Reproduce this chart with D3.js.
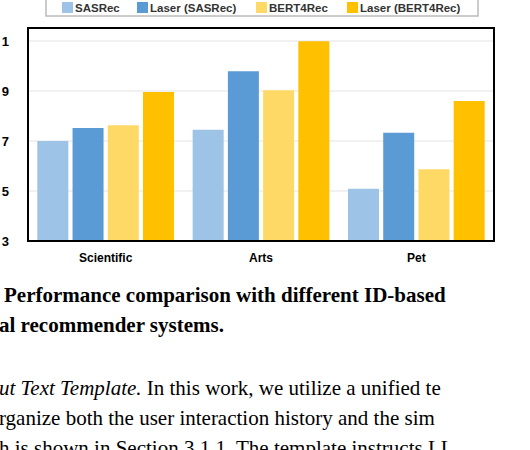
<!DOCTYPE html>
<html><head><meta charset="utf-8">
<script src="https://cdn.jsdelivr.net/npm/d3@7"></script>
<style>body{margin:0;background:#fff}svg{display:block}</style>
</head><body>
<svg id="c" width="530" height="450"></svg>
<script>
const categories = ['Scientific', 'Arts', 'Pet'];
const seriesNames = ['SASRec', 'Laser (SASRec)', 'BERT4Rec', 'Laser (BERT4Rec)'];
const sasrec = [7.0, 7.45, 5.09];
const laserSasrec = [7.52, 9.79, 7.33];
const bert4rec = [7.63, 9.03, 5.87];
const laserBert = [8.96, 10.99, 8.6];
const tickValues = [3, 5, 7, 9, 11];
const tickLabels = ['3', '5', '7', '9', '1'];
const colors = ['#9dc3e6', '#5b9bd5', '#ffd966', '#ffc000'];

const svg = d3.select('#c');
const plotLeft = 28, plotRight = 494, plotTop = 28, plotBottom = 241;

let x0 = d3.scaleBand().domain(categories).range([plotLeft, plotRight]).paddingInner(0.12).paddingOuter(0.06),
    x1 = d3.scaleBand().domain(seriesNames).range([0, x0.bandwidth()]).paddingInner(0.12),
    y = d3.scaleLinear().domain([3, 11.52]).range([plotBottom, plotTop]);

// gridlines
svg.append('g').selectAll('line').data(tickValues.slice(1)).enter().append('line')
    .attr('x1', plotLeft).attr('x2', plotRight)
    .attr('y1', d => y(d)).attr('y2', d => y(d))
    .attr('stroke', '#ececec').attr('stroke-width', 1.5);

// bars
let values = [sasrec, laserSasrec, bert4rec, laserBert];
let rows = categories.map((c, i) => seriesNames.map((s, j) => ({c: c, s: s, v: values[j][i], j: j})));
svg.append('g').selectAll('g').data(rows).enter().append('g')
    .attr('transform', d => 'translate(' + x0(d[0].c) + ',0)')
    .selectAll('rect').data(d => d).enter().append('rect')
    .attr('x', d => x1(d.s)).attr('width', x1.bandwidth())
    .attr('y', d => y(d.v)).attr('height', d => y(3) - y(d.v))
    .attr('fill', d => colors[d.j]);

// frame
svg.append('rect').attr('x', plotLeft).attr('y', plotTop).attr('width', plotRight - plotLeft).attr('height', plotBottom - plotTop)
    .attr('fill', 'none').attr('stroke', '#000').attr('stroke-width', 2);

// y tick labels
svg.append('g').selectAll('text').data(tickValues).enter().append('text')
    .attr('x', 9).attr('y', d => y(d) + 4.5).attr('text-anchor', 'end')
    .attr('font-family', 'Liberation Sans, sans-serif').attr('font-weight', 'bold').attr('font-size', 13)
    .text((d, i) => tickLabels[i]);

// category labels
svg.append('g').selectAll('text').data(categories).enter().append('text')
    .attr('x', d => x0(d) + x0.bandwidth() / 2).attr('y', 262).attr('text-anchor', 'middle')
    .attr('font-family', 'Liberation Sans, sans-serif').attr('font-weight', 'bold').attr('font-size', 12)
    .text(d => d);

// legend
svg.append('rect').attr('x', 46).attr('y', -4).attr('width', 432).attr('height', 20)
    .attr('fill', '#fff').attr('stroke', '#bbb').attr('stroke-width', 1.5);
let legX = [62, 137, 256, 347];
let leg = svg.append('g').selectAll('g').data(seriesNames).enter().append('g')
    .attr('transform', (d, i) => 'translate(' + legX[i] + ',2)');
leg.append('rect').attr('width', 11).attr('height', 11).attr('fill', (d, i) => colors[i]);
leg.append('text').attr('x', 13).attr('y', 10)
    .attr('font-family', 'Liberation Sans, sans-serif').attr('font-weight', 'bold').attr('font-size', 11.5)
    .attr('fill', '#333').text(d => d);

// caption and body text
let caption = ['Performance comparison with different ID-based', 'al recommender systems.'];
svg.append('g').selectAll('text').data(caption).enter().append('text')
    .attr('x', (d, i) => i ? -1 : 4).attr('y', (d, i) => 302 + i * 30)
    .attr('font-family', 'Liberation Serif, serif').attr('font-weight', 'bold').attr('font-size', 21)
    .text(d => d);

let body = svg.append('g').attr('font-family', 'Liberation Serif, serif').attr('font-size', 21);
let l1 = body.append('text').attr('x', -1).attr('y', 395);
l1.append('tspan').attr('font-style', 'italic').text('ut Text Template.');
l1.append('tspan').text('  In this work, we utilize a unified te');
body.append('text').attr('x', -1).attr('y', 425).text('rganize both the user interaction history and the sim');
body.append('text').attr('x', -1).attr('y', 455).text('h is shown in Section 3.1.1. The template instructs LL');
</script>
</body></html>
